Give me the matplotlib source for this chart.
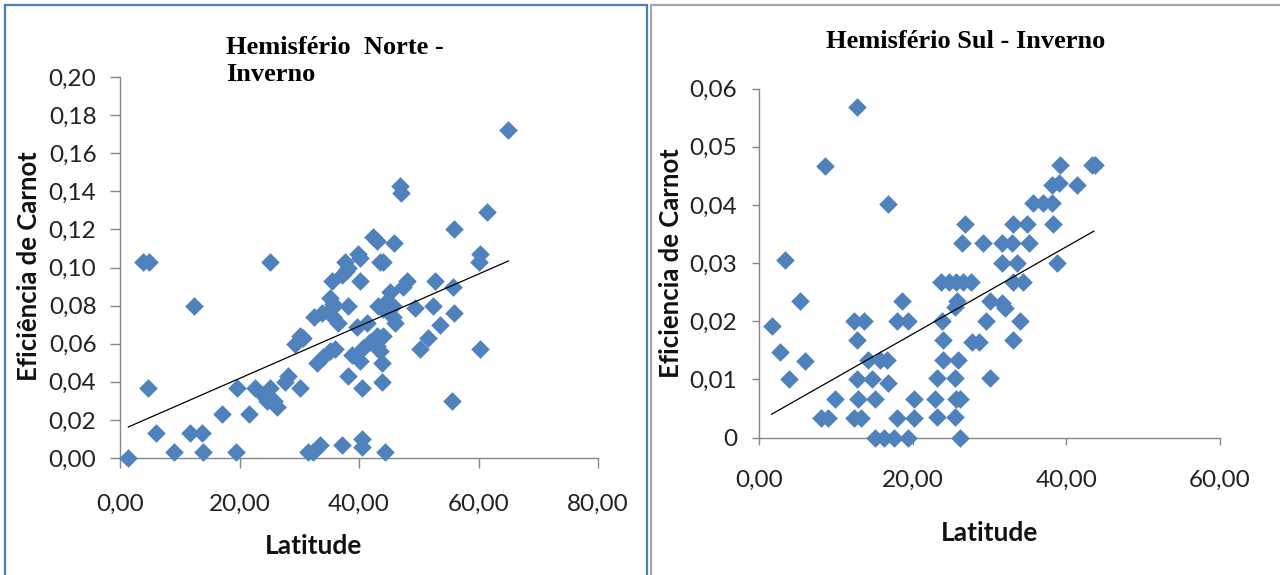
import matplotlib
matplotlib.use("Agg")
import matplotlib.pyplot as plt
from matplotlib.patches import Rectangle
from matplotlib.lines import Line2D

# Hemisfério Norte - Inverno: latitude vs Carnot efficiency
norte_lat = [1.4, 3.9, 4.9, 4.7, 6.0, 9.0, 12.4, 11.7, 13.7, 13.9,
             17.0, 19.4, 19.5, 21.6, 22.6, 24.0, 25.1, 24.6, 25.7, 26.2,
             25.1, 27.6, 28.2, 30.1, 29.3, 30.1, 30.7, 31.5, 32.3, 33.5,
             32.4, 33.8, 35.4, 35.7, 36.5, 32.9, 34.0, 35.1, 36.0, 35.1,
             35.7, 35.4, 37.1, 37.9, 37.7, 38.2, 38.2, 37.1, 38.2, 38.8,
             40.2, 40.2, 39.9, 40.2, 40.5, 40.5, 40.5, 39.6, 41.3, 40.7,
             41.8, 43.0, 43.5, 43.8, 43.0, 44.1, 42.4, 43.0, 43.5, 44.0,
             43.8, 44.4, 43.2, 44.1, 45.2, 44.6, 45.7, 45.7, 46.0, 45.9,
             46.9, 47.1, 47.4, 48.0, 49.4, 50.2, 51.6, 52.7, 52.4, 53.6,
             55.9, 55.8, 55.9, 55.5, 60.3, 60.0, 60.3, 61.4, 65.0]
norte_ef = [0.000, 0.103, 0.103, 0.037, 0.013, 0.003, 0.080, 0.013, 0.013, 0.003,
            0.023, 0.003, 0.037, 0.023, 0.037, 0.033, 0.037, 0.030, 0.030, 0.027,
            0.103, 0.040, 0.043, 0.037, 0.060, 0.064, 0.063, 0.003, 0.003, 0.007,
            0.074, 0.076, 0.079, 0.074, 0.071, 0.050, 0.053, 0.056, 0.057, 0.084,
            0.081, 0.093, 0.096, 0.098, 0.103, 0.100, 0.080, 0.007, 0.043, 0.054,
            0.051, 0.093, 0.107, 0.105, 0.010, 0.006, 0.037, 0.069, 0.071, 0.058,
            0.061, 0.059, 0.056, 0.050, 0.064, 0.064, 0.116, 0.114, 0.103, 0.103,
            0.040, 0.003, 0.080, 0.078, 0.087, 0.082, 0.080, 0.074, 0.071, 0.113,
            0.143, 0.139, 0.090, 0.093, 0.079, 0.057, 0.063, 0.093, 0.080, 0.070,
            0.076, 0.090, 0.120, 0.030, 0.057, 0.103, 0.107, 0.129, 0.172]
norte_trend_lat = [1.4, 65.0]
norte_trend_ef = [0.0163, 0.1034]

# Hemisfério Sul - Inverno
sul_lat = [1.6, 2.7, 3.3, 3.9, 5.3, 6.0, 8.1, 9.0, 8.6, 9.9,
           12.3, 13.6, 12.7, 12.7, 12.7, 12.9, 12.3, 13.3, 14.2, 15.7,
           16.6, 14.7, 15.1, 16.8, 16.8, 15.1, 16.2, 17.5, 19.4, 17.9,
           19.4, 18.6, 17.9, 20.1, 20.1, 22.9, 23.1, 23.1, 23.9, 24.0,
           23.8, 23.7, 24.7, 25.6, 26.6, 27.6, 25.5, 25.7, 25.9, 25.5,
           25.6, 26.2, 25.5, 26.2, 26.4, 26.8, 27.7, 28.6, 29.2, 29.6,
           30.1, 30.1, 31.6, 31.6, 31.6, 32.0, 32.9, 33.1, 33.1, 33.6,
           33.1, 34.0, 34.4, 34.9, 35.1, 35.7, 37.0, 38.1, 38.1, 39.0,
           38.3, 38.8, 39.2, 41.4, 43.3, 43.8]
sul_ef = [0.0191, 0.0147, 0.0305, 0.0101, 0.0234, 0.0131, 0.0033, 0.0033, 0.0467, 0.0067,
          0.0200, 0.0200, 0.0568, 0.0167, 0.0101, 0.0067, 0.0033, 0.0033, 0.0133, 0.0133,
          0.0133, 0.0101, 0.0067, 0.0093, 0.0401, 0.0, 0.0, 0.0, 0.0, 0.0200,
          0.0200, 0.0234, 0.0033, 0.0067, 0.0033, 0.0067, 0.0036, 0.0102, 0.0133, 0.0168,
          0.0200, 0.0268, 0.0268, 0.0268, 0.0268, 0.0268, 0.0225, 0.0234, 0.0133, 0.0102,
          0.0067, 0.0067, 0.0036, 0.0, 0.0334, 0.0367, 0.0165, 0.0165, 0.0334, 0.0200,
          0.0234, 0.0102, 0.0300, 0.0334, 0.0231, 0.0222, 0.0334, 0.0368, 0.0268, 0.0300,
          0.0168, 0.0200, 0.0268, 0.0368, 0.0334, 0.0403, 0.0403, 0.0403, 0.0434, 0.0437,
          0.0368, 0.0300, 0.0469, 0.0434, 0.0469, 0.0469]
sul_trend_lat = [1.6, 43.6]
sul_trend_ef = [0.0040, 0.0355]

norte_xticks = [0, 20, 40, 60, 80]
norte_xlabels = ['0,00', '20,00', '40,00', '60,00', '80,00']
norte_yticks = [0, 0.02, 0.04, 0.06, 0.08, 0.10, 0.12, 0.14, 0.16, 0.18, 0.20]
norte_ylabels = ['0,00', '0,02', '0,04', '0,06', '0,08', '0,10',
                 '0,12', '0,14', '0,16', '0,18', '0,20']
sul_xticks = [0, 20, 40, 60]
sul_xlabels = ['0,00', '20,00', '40,00', '60,00']
sul_yticks = [0, 0.01, 0.02, 0.03, 0.04, 0.05, 0.06]
sul_ylabels = ['0', '0,01', '0,02', '0,03', '0,04', '0,05', '0,06']

BLUE = '#4f81bd'
GREY = '#868686'
W, H = 1280, 575

plt.rcParams['font.family'] = ['Lato', 'DejaVu Sans']
fig = plt.figure(figsize=(W / 100, H / 100), dpi=100)

# chart area frames
fig.patches.append(Rectangle((5 / W, -0.01), 642 / W, 1 - 4.5 / H + 0.01,
                             transform=fig.transFigure, fill=False,
                             edgecolor='#4a7ebb', linewidth=1.6))
fig.lines.append(Line2D([650.5 / W, 650.5 / W, 1.0], [0, 1 - 4.5 / H, 1 - 4.5 / H],
                        transform=fig.transFigure, color='#a6a6a6', linewidth=1.6))


def draw(rect, lat, ef, tlat, tef, xlim, ylim, xt, xl, yt, yl, ylabel,
         ylab_pos, xlab_pos, ticklen, xpad, ypad):
    ax = fig.add_axes(rect)
    ax.scatter(lat, ef, marker='D', s=90, color=BLUE, linewidths=0,
               clip_on=False, zorder=3)
    ax.plot(tlat, tef, color='black', linewidth=0.9, zorder=4)
    ax.set_xlim(*xlim)
    ax.set_ylim(*ylim)
    ax.set_xticks(xt)
    ax.set_xticklabels(xl)
    ax.set_yticks(yt)
    ax.set_yticklabels(yl)
    for s in ['top', 'right']:
        ax.spines[s].set_visible(False)
    for s in ['left', 'bottom']:
        ax.spines[s].set_color(GREY)
        ax.spines[s].set_linewidth(1.0)
    ax.tick_params(axis='both', direction='out', length=ticklen, width=1.0,
                   color=GREY, labelsize=17.5, labelcolor='#222222')
    ax.tick_params(axis='x', pad=xpad)
    ax.tick_params(axis='y', pad=ypad)
    ax.set_ylabel(ylabel, fontsize=18.5, fontweight='bold', color='#111111')
    ax.yaxis.set_label_coords(*ylab_pos)
    ax.yaxis.label.set_va('center')
    ax.set_xlabel('Latitude', fontsize=19, fontweight='bold', color='#111111')
    ax.xaxis.set_label_coords(*xlab_pos)
    ax.xaxis.label.set_va('center')
    return ax


draw([120 / W, 1 - 458 / H, 478 / W, 381 / H], norte_lat, norte_ef,
     norte_trend_lat, norte_trend_ef, (0, 80), (0, 0.20),
     norte_xticks, norte_xlabels, norte_yticks, norte_ylabels,
     'Eficiência de Carnot', (-0.19, 0.503), (0.404, -0.231), 7, 19, 10)

draw([759.3 / W, 1 - 437.5 / H, 460.4 / W, 348.8 / H], sul_lat, sul_ef,
     sul_trend_lat, sul_trend_ef, (0, 60), (0, 0.06),
     sul_xticks, sul_xlabels, sul_yticks, sul_ylabels,
     'Eficiencia de Carnot', (-0.192, 0.5), (0.501, -0.274), 5, 18, 11)

fig.text(226 / W, 1 - 61 / H, 'Hemisfério  Norte -\nInverno', ha='left',
         va='center', family='Liberation Serif', fontweight='bold',
         fontsize=19, linespacing=1.2)
fig.text(965.5 / W, 1 - 42 / H, 'Hemisfério Sul - Inverno', ha='center',
         va='center', family='Liberation Serif', fontweight='bold', fontsize=19)

fig.savefig('out.png', dpi=100)
